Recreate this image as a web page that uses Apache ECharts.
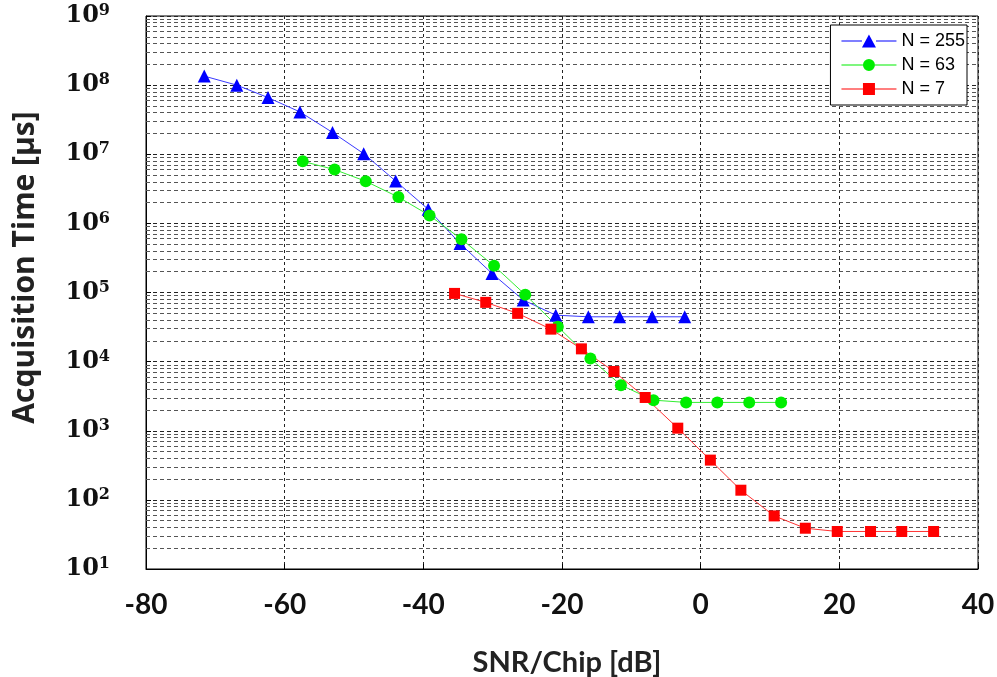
<!DOCTYPE html>
<html>
<head>
<meta charset="utf-8">
<script src="https://cdn.jsdelivr.net/npm/echarts@6/dist/echarts.min.js"></script>
<style>html,body{margin:0;padding:0;background:#fff;}#c{width:997px;height:677px;}</style>
</head>
<body>
<div id="c"></div>
<script>
// ---- data ----
const seriesNames = ['N = 255', 'N = 63', 'N = 7'];
const snrN255 = [-71.6, -66.9, -62.4, -57.8, -53.1, -48.6, -44.0, -39.3, -34.7, -30.1, -25.6, -20.9, -16.2, -11.7, -7.0, -2.3];
const timeN255 = [1.35e8, 1.0e8, 6.6e7, 4.1e7, 2.07e7, 1.02e7, 4.1e6, 1.6e6, 5.1e5, 1.89e5, 7.8e4, 4.7e4, 4.45e4, 4.45e4, 4.45e4, 4.45e4];
const snrN63 = [-57.4, -52.8, -48.3, -43.6, -39.1, -34.5, -29.8, -25.3, -20.6, -15.9, -11.5, -6.8, -2.1, 2.4, 7.0, 11.6];
const timeN63 = [7.9e6, 6.0e6, 4.06e6, 2.4e6, 1.3e6, 5.9e5, 2.43e5, 9.3e4, 3.2e4, 1.11e4, 4.57e3, 2.77e3, 2.57e3, 2.57e3, 2.57e3, 2.57e3];
const snrN7 = [-35.5, -31.0, -26.4, -21.6, -17.2, -12.5, -8.0, -3.3, 1.4, 5.8, 10.6, 15.1, 19.7, 24.5, 29.0, 33.6];
const timeN7 = [9.7e4, 7.2e4, 4.99e4, 2.95e4, 1.53e4, 7.2e3, 3.03e3, 1.09e3, 376, 138, 58.6, 38.9, 34.9, 34.9, 34.9, 34.9];
const xTicks = [-80, -60, -40, -20, 0, 20, 40];
const yDecadeExponents = [1, 2, 3, 4, 5, 6, 7, 8, 9];
const minorMultipliers = [2, 3, 4, 5, 6, 7, 8, 9];

const zip = (xs, ys) => xs.map((x, i) => [x, ys[i]]);

// minor (2..9 per decade) grid lines for the log axis
const minorLines = [];
yDecadeExponents.slice(0, -1).forEach(e => {
  minorMultipliers.forEach(m => minorLines.push({ yAxis: m * Math.pow(10, e) }));
});

// legend icons: line with marker in the middle
const iconTri = 'path://M0,6 H20.5 V7 H0 Z M34.5,6 H55 V7 H34.5 Z M20.5,13 L27.5,0 L34.5,13 Z';
const iconCircle = 'path://M0,0 M0,6 H21.5 V7 H0 Z M33.5,6 H55 V7 H33.5 Z M21.5,6.5 A6,6 0 1,1 33.5,6.5 A6,6 0 1,1 21.5,6.5 Z M0,13';
const iconRect = 'path://M0,6 H21.5 V7 H0 Z M33.5,6 H55 V7 H33.5 Z M21.5,0.5 H33.5 V12.5 H21.5 Z';

const chart = echarts.init(document.getElementById('c'), null, { renderer: 'canvas' });
chart.setOption({
  backgroundColor: '#ffffff',
  animation: false,
  grid: { left: 146, right: 19, top: 16, bottom: 108, show: true, borderColor: '#000', borderWidth: 1,
          backgroundColor: 'transparent', containLabel: false, outerBoundsMode: 'none' },
  legend: {
    z: 100,
    data: [
      { name: seriesNames[0], icon: iconTri },
      { name: seriesNames[1], icon: iconCircle },
      { name: seriesNames[2], icon: iconRect }
    ],
    orient: 'vertical',
    right: 30, top: 25,
    padding: [7, 2, 7, 11],
    itemWidth: 55, itemHeight: 13, itemGap: 6,
    backgroundColor: '#ffffff',
    borderColor: '#000', borderWidth: 1,
    itemStyle: { borderWidth: 0 },
    textStyle: { fontFamily: 'Liberation Sans, Arial', fontSize: 18, lineHeight: 18, color: '#000' }
  },
  xAxis: {
    type: 'value', min: xTicks[0], max: xTicks[xTicks.length - 1], interval: 20,
    name: 'SNR/Chip [dB]', nameLocation: 'middle', nameGap: 79,
    nameTextStyle: { fontFamily: 'Lato', fontWeight: 'bold', fontSize: 29, color: '#222', padding: [0, 0, 0, 10] },
    axisLine: { show: true, onZero: false, lineStyle: { color: '#000' } },
    axisTick: { show: true, inside: true, length: 5, lineStyle: { color: '#000' } },
    axisLabel: { fontFamily: 'Lato', fontWeight: 'bold', fontSize: 28, color: '#111', margin: 22 },
    splitLine: { show: true, lineStyle: { type: [3, 3], color: '#222', width: 1 } }
  },
  yAxis: {
    type: 'log', logBase: 10, min: 10, max: 1e9, interval: 1, splitNumber: 8,
    name: 'Acquisition Time [µs]', nameLocation: 'middle', nameGap: 106, nameRotate: 90,
    nameTextStyle: { fontFamily: 'Open Sans', fontWeight: 'bold', fontSize: 30, color: '#222', padding: [0, 0, 0, 50] },
    axisLine: { show: true, onZero: false, lineStyle: { color: '#000' } },
    axisTick: { show: true, inside: true, length: 5, lineStyle: { color: '#000' } },
    axisLabel: {
      margin: 36,
      formatter: v => '{b|10}{s|' + Math.round(Math.log10(v)) + '}',
      rich: {
        b: { fontFamily: 'DejaVu Serif', fontWeight: 'bold', fontSize: 24, color: '#111', lineHeight: 26 },
        s: { fontFamily: 'DejaVu Serif', fontWeight: 'bold', fontSize: 16, color: '#111', verticalAlign: 'top', lineHeight: 18 }
      }
    },
    splitLine: { show: true, lineStyle: { type: [4, 3], color: '#222', width: 1 } }
  },
  series: [
    {
      name: '_minorgrid', type: 'line', data: [], silent: true, z: 1,
      markLine: { silent: true, symbol: 'none', label: { show: false }, animation: false, z: 1,
        lineStyle: { type: [4, 3], color: '#555', width: 1 }, data: minorLines }
    },
    {
      name: seriesNames[0], type: 'line', data: zip(snrN255, timeN255),
      symbol: 'triangle', symbolSize: 13,
      lineStyle: { color: '#3a3aff', width: 1 }, itemStyle: { color: '#0000ff' }
    },
    {
      name: seriesNames[1], type: 'line', data: zip(snrN63, timeN63),
      symbol: 'circle', symbolSize: 12,
      lineStyle: { color: '#33ee33', width: 1 }, itemStyle: { color: '#00ee00' }
    },
    {
      name: seriesNames[2], type: 'line', data: zip(snrN7, timeN7),
      symbol: 'rect', symbolSize: 11,
      lineStyle: { color: '#ff3333', width: 1 }, itemStyle: { color: '#ff0000' }
    }
  ]
});
</script>
</body>
</html>
